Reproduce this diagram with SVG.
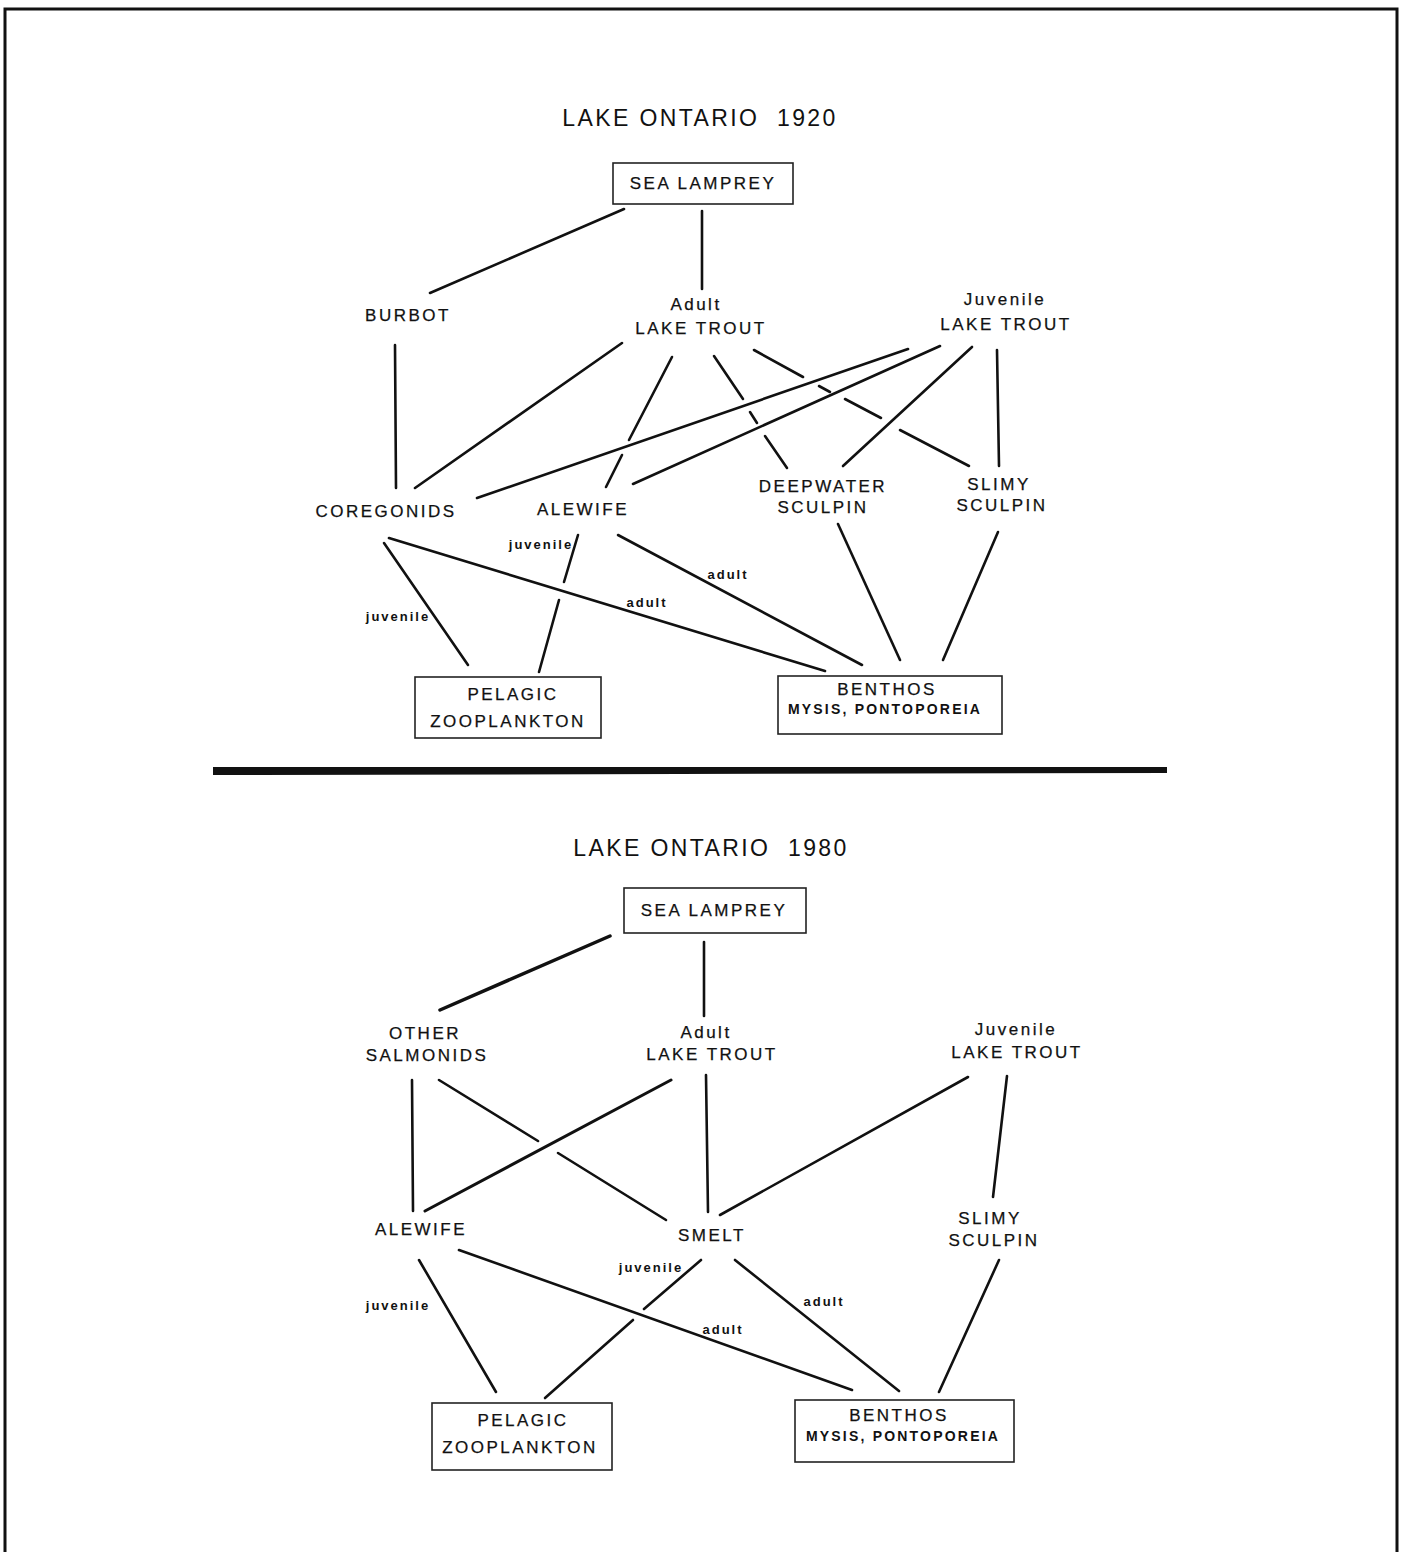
<svg xmlns="http://www.w3.org/2000/svg" width="1403" height="1552" viewBox="0 0 1403 1552">
<style>
.t{font-family:"Liberation Sans",Arial,sans-serif;font-size:17px;letter-spacing:2.5px;text-anchor:middle;fill:#111;stroke:#111;stroke-width:0.25}
.h{font-family:"Liberation Sans",Arial,sans-serif;font-size:23px;letter-spacing:2.4px;text-anchor:middle;fill:#111;white-space:pre}
.s{font-family:"Liberation Sans",Arial,sans-serif;font-size:13px;font-weight:bold;letter-spacing:2px;text-anchor:middle;fill:#111}
.m{font-family:"Liberation Sans",Arial,sans-serif;font-size:14px;font-weight:bold;letter-spacing:2.2px;text-anchor:middle;fill:#111}
.b{fill:#fff;stroke:#222;stroke-width:1.6}
.c line{stroke:#111;stroke-width:2.6;stroke-linecap:round}
</style>
<rect width="1403" height="1552" fill="#fff"/>
<path d="M5,1552 V9 H1397 V1552" fill="none" stroke="#111" stroke-width="3"/>

<!-- ===== 1920 ===== -->
<text class="h" x="700" y="126" xml:space="preserve">LAKE ONTARIO  1920</text>

<g class="c" id="connectors-1920">
<line x1="624" y1="209" x2="430" y2="293"/>
<line x1="702" y1="211" x2="702" y2="289"/>
<line x1="395" y1="345" x2="396" y2="488"/>
<line x1="622" y1="343" x2="415" y2="488"/>
<line x1="672" y1="357" x2="629" y2="440"/>
<line x1="622" y1="455" x2="606" y2="487"/>
<line x1="714" y1="356" x2="743" y2="399"/>
<line x1="750" y1="412" x2="757" y2="423"/>
<line x1="765" y1="436" x2="787" y2="468"/>
<line x1="754" y1="350" x2="803" y2="377"/>
<line x1="819" y1="386" x2="830" y2="392"/>
<line x1="845" y1="399" x2="881" y2="418"/>
<line x1="900" y1="430" x2="969" y2="466"/>
<line x1="908" y1="349" x2="477" y2="498"/>
<line x1="940" y1="346" x2="633" y2="484"/>
<line x1="972" y1="347" x2="843" y2="466"/>
<line x1="997" y1="350" x2="999" y2="466"/>
<line x1="384" y1="543" x2="468" y2="665"/>
<line x1="578" y1="535" x2="564" y2="582"/>
<line x1="559" y1="600" x2="539" y2="672"/>
<line x1="389" y1="538" x2="825" y2="671"/>
<line x1="618" y1="535" x2="862" y2="665"/>
<line x1="838" y1="524" x2="900" y2="660"/>
<line x1="998" y1="532" x2="943" y2="660"/>
</g>
<text class="s" x="541" y="549">juvenile</text>
<text class="s" x="398" y="621">juvenile</text>
<text class="s" x="647" y="607">adult</text>
<text class="s" x="728" y="579">adult</text>

<g id="sea-lamprey-1920">
<rect class="b" x="613" y="163" width="180" height="41"/>
<text class="t" x="703" y="189">SEA LAMPREY</text>
</g>
<g id="burbot-1920"><text class="t" x="408" y="321">BURBOT</text></g>
<g id="adult-lake-trout-1920">
<text class="t" x="696" y="310">Adult</text>
<text class="t" x="701" y="334">LAKE TROUT</text>
</g>
<g id="juvenile-lake-trout-1920">
<text class="t" x="1005" y="305">Juvenile</text>
<text class="t" x="1006" y="330">LAKE TROUT</text>
</g>
<g id="coregonids-1920"><text class="t" x="386" y="517">COREGONIDS</text></g>
<g id="alewife-1920"><text class="t" x="583" y="515">ALEWIFE</text></g>
<g id="deepwater-sculpin-1920">
<text class="t" x="823" y="492">DEEPWATER</text>
<text class="t" x="823" y="513">SCULPIN</text>
</g>
<g id="slimy-sculpin-1920">
<text class="t" x="999" y="490">SLIMY</text>
<text class="t" x="1002" y="511">SCULPIN</text>
</g>
<g id="pelagic-zooplankton-1920">
<rect class="b" x="415" y="677" width="186" height="61"/>
<text class="t" x="513" y="700">PELAGIC</text>
<text class="t" x="508" y="727">ZOOPLANKTON</text>
</g>
<g id="benthos-1920">
<rect class="b" x="778" y="676" width="224" height="58"/>
<text class="t" x="887" y="695">BENTHOS</text>
<text class="m" x="885" y="714">MYSIS, PONTOPOREIA</text>
</g>

<polygon points="213,767 1167,767 1167,773 213,775" fill="#111"/>

<!-- ===== 1980 ===== -->
<text class="h" x="711" y="856" xml:space="preserve">LAKE ONTARIO  1980</text>

<g class="c" id="connectors-1980">
<line x1="610" y1="936" x2="440" y2="1010" style="stroke-width:3.5"/>
<line x1="704" y1="942" x2="704" y2="1016"/>
<line x1="412" y1="1080" x2="413" y2="1211"/>
<line x1="439" y1="1080" x2="538" y2="1141"/>
<line x1="558" y1="1153" x2="666" y2="1220"/>
<line x1="671" y1="1080" x2="425" y2="1211" style="stroke-width:3"/>
<line x1="706" y1="1075" x2="708" y2="1212"/>
<line x1="968" y1="1077" x2="720" y2="1215"/>
<line x1="1007" y1="1076" x2="993" y2="1197"/>
<line x1="419" y1="1260" x2="496" y2="1392"/>
<line x1="459" y1="1250" x2="852" y2="1390"/>
<line x1="701" y1="1260" x2="644" y2="1309"/>
<line x1="633" y1="1320" x2="545" y2="1398"/>
<line x1="735" y1="1260" x2="899" y2="1391"/>
<line x1="999" y1="1260" x2="939" y2="1392"/>
</g>
<text class="s" x="398" y="1310">juvenile</text>
<text class="s" x="651" y="1272">juvenile</text>
<text class="s" x="723" y="1334">adult</text>
<text class="s" x="824" y="1306">adult</text>

<g id="sea-lamprey-1980">
<rect class="b" x="624" y="888" width="182" height="45"/>
<text class="t" x="714" y="916">SEA LAMPREY</text>
</g>
<g id="other-salmonids-1980">
<text class="t" x="425" y="1039">OTHER</text>
<text class="t" x="427" y="1061">SALMONIDS</text>
</g>
<g id="adult-lake-trout-1980">
<text class="t" x="706" y="1038">Adult</text>
<text class="t" x="712" y="1060">LAKE TROUT</text>
</g>
<g id="juvenile-lake-trout-1980">
<text class="t" x="1016" y="1035">Juvenile</text>
<text class="t" x="1017" y="1058">LAKE TROUT</text>
</g>
<g id="alewife-1980"><text class="t" x="421" y="1235">ALEWIFE</text></g>
<g id="smelt-1980"><text class="t" x="712" y="1241">SMELT</text></g>
<g id="slimy-sculpin-1980">
<text class="t" x="990" y="1224">SLIMY</text>
<text class="t" x="994" y="1246">SCULPIN</text>
</g>
<g id="pelagic-zooplankton-1980">
<rect class="b" x="432" y="1403" width="180" height="67"/>
<text class="t" x="523" y="1426">PELAGIC</text>
<text class="t" x="520" y="1453">ZOOPLANKTON</text>
</g>
<g id="benthos-1980">
<rect class="b" x="795" y="1400" width="219" height="62"/>
<text class="t" x="899" y="1421">BENTHOS</text>
<text class="m" x="903" y="1441">MYSIS, PONTOPOREIA</text>
</g>
</svg>
